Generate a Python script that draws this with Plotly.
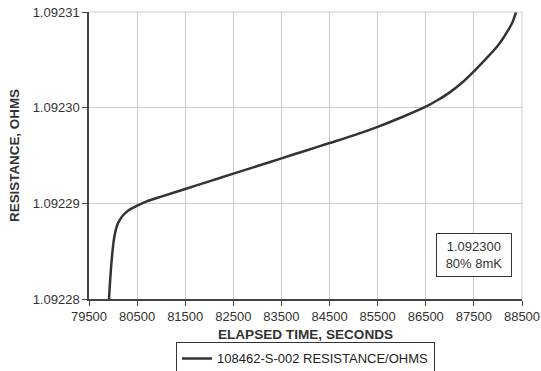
import plotly.graph_objects as go

elapsed_s = [79912, 79916, 79935, 79951, 79972, 79993, 80020, 80061, 80100, 80144, 80200,
             80260, 80330, 80400, 80480, 80560, 80700, 81000, 81500, 82000, 82500,
             83000, 83500, 84000, 84500, 85000, 85500, 86000, 86500, 86750, 87000,
             87250, 87500, 87750, 88000, 88100, 88200, 88300, 88377]
resistance = [1.0922795, 1.0922800, 1.0922816, 1.0922828, 1.0922841, 1.0922852, 1.0922863,
              1.0922873, 1.0922879, 1.0922883, 1.0922887, 1.0922890, 1.0922893, 1.0922895,
              1.0922897, 1.0922899, 1.0922902, 1.0922907, 1.0922915, 1.0922923, 1.0922931,
              1.0922939, 1.0922947, 1.0922955, 1.0922963, 1.0922971, 1.0922980, 1.0922990,
              1.0923001, 1.0923008, 1.0923016, 1.0923026, 1.0923038, 1.0923051, 1.0923065,
              1.0923072, 1.0923080, 1.0923089, 1.0923100]

x_ticks = [79500, 80500, 81500, 82500, 83500, 84500, 85500, 86500, 87500, 88500]
y_ticks = [1.09228, 1.09229, 1.09230, 1.09231]
y_tick_text = ["1.09228", "1.09229", "1.09230", "1.09231"]
series_name = "108462-S-002 RESISTANCE/OHMS"
note_text = "1.092300<br>80% 8mK"

font_family = "Liberation Sans, Arial, sans-serif"

fig = go.Figure()
fig.add_trace(go.Scatter(x=elapsed_s, y=resistance, mode="lines", name=series_name,
                         line=dict(color="#333333", width=2.5, shape="spline", smoothing=0.6),
                         showlegend=True, cliponaxis=True))

fig.update_layout(
    width=541, height=371,
    margin=dict(l=89, r=19, t=12, b=72, autoexpand=False),
    paper_bgcolor="white", plot_bgcolor="white",
    font=dict(family=font_family, size=13, color="#333333"),
    showlegend=True,
    legend=dict(orientation="h", x=0.5, xanchor="center", xref="paper",
                y=0.077, yanchor="top", yref="container",
                bordercolor="#333333", borderwidth=1, font=dict(size=13, color="#222222"),
                itemwidth=30, tracegroupgap=0),
    xaxis=dict(range=[79500, 88500], tickvals=x_ticks, ticktext=[str(v) for v in x_ticks],
               showgrid=True, gridcolor="#cccccc", gridwidth=1, automargin=False,
               showline=True, linecolor="#444444", linewidth=1.5,
               ticks="outside", ticklen=5, tickcolor="#444444",
               tickfont=dict(size=13, color="#333333"),
               title=dict(text="<b>ELAPSED TIME, SECONDS</b>", font=dict(size=13.6, color="#333333"),
                          standoff=7),
               zeroline=False),
    yaxis=dict(range=[1.09228, 1.09231], tickvals=y_ticks, ticktext=y_tick_text,
               showgrid=True, gridcolor="#cccccc", gridwidth=1, automargin=False,
               showline=True, linecolor="#444444", linewidth=1.5,
               ticks="outside", ticklen=5, tickcolor="#444444",
               tickfont=dict(size=13, color="#333333"),
               title=dict(text="<b>RESISTANCE, OHMS</b>", font=dict(size=13.4, color="#333333"),
                          standoff=10),
               zeroline=False),
)

fig.add_annotation(x=0.889, y=0.153, xref="paper", yref="paper", text=note_text,
                   xanchor="center", yanchor="middle",
                   showarrow=False, align="center", bordercolor="#333333", borderwidth=1,
                   borderpad=5, width=64, bgcolor="white", font=dict(size=13, color="#333333"))

fig.add_shape(type="line", xref="paper", yref="paper", x0=0, x1=1, y0=1, y1=1,
              line=dict(color="#cccccc", width=1))
fig.add_shape(type="line", xref="paper", yref="paper", x0=1, x1=1, y0=0, y1=1,
              line=dict(color="#cccccc", width=1))

fig.write_html("out.html")
